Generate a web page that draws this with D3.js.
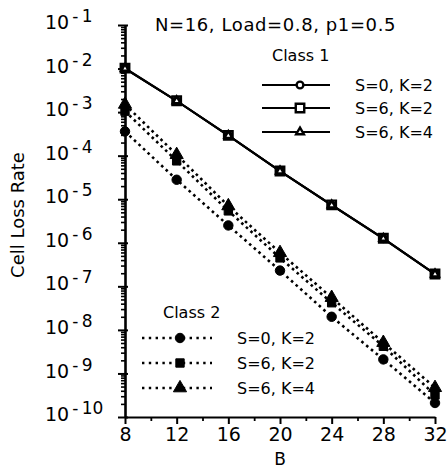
<!DOCTYPE html>
<html>
<head>
<meta charset="utf-8">
<script src="https://cdn.jsdelivr.net/npm/d3@7"></script>
<style>
  body { margin: 0; background: #fff; }
  svg { display: block; }
  text { font-family: "DejaVu Sans", sans-serif; fill: #000; }
</style>
</head>
<body>
<svg id="chart" width="447" height="475"></svg>
<script>
// Buffer size B on the x axis
const bufferSizes = [8, 12, 16, 20, 24, 28, 32];

// Class 1 cell loss rate (solid lines, open markers)
const class1S0K2 = [1.0e-2, 1.8e-3, 2.9e-4, 4.4e-5, 7.3e-6, 1.25e-6, 1.9e-7];
const class1S6K2 = [1.02e-2, 1.82e-3, 2.92e-4, 4.45e-5, 7.4e-6, 1.27e-6, 1.92e-7];
const class1S6K4 = [1.0e-2, 1.8e-3, 2.88e-4, 4.4e-5, 7.3e-6, 1.25e-6, 1.9e-7];

// Class 2 cell loss rate (dotted lines, filled markers)
const class2S0K2 = [3.6e-4, 2.8e-5, 2.5e-6, 2.3e-7, 2.0e-8, 2.1e-9, 2.1e-10];
const class2S6K2 = [1.05e-3, 7.6e-5, 5.4e-6, 4.5e-7, 4.2e-8, 4.2e-9, 3.2e-10];
const class2S6K4 = [1.5e-3, 1.05e-4, 7.0e-6, 5.9e-7, 5.5e-8, 5.1e-9, 4.7e-10];

const seriesLabels = ["S=0, K=2", "S=6, K=2", "S=6, K=4"];
const markerShapes = ["circle", "square", "triangle"];

const xTickValues = [8, 12, 16, 20, 24, 28, 32];
const xMinorTickValues = [10, 14, 18, 22, 26, 30];
const yExponents = [-1, -2, -3, -4, -5, -6, -7, -8, -9, -10];

const titleText = "N=16, Load=0.8, p1=0.5";
const yLabelText = "Cell Loss Rate";
const xLabelText = "B";

const svg = d3.select("#chart");

const x = d3.scaleLinear().domain([8, 32]).range([125, 435]);
const y = d3.scaleLog().domain([1e-10, 1e-1]).range([417, 25]);

// ---- axes ----
const xAxisG = svg.append("g").attr("transform", `translate(0,${y.range()[0]})`);
xAxisG.call(d3.axisBottom(x).tickValues(xTickValues).tickSize(7).tickSizeOuter(0).tickPadding(4).tickFormat(d3.format("d")));
xAxisG.select(".domain").attr("stroke-width", 2.2);
xAxisG.selectAll(".tick line").attr("stroke-width", 2);
xAxisG.selectAll(".tick text").attr("font-size", 19).attr("font-family", "DejaVu Sans");
svg.append("g").attr("transform", `translate(0,${y.range()[0]})`)
  .call(d3.axisBottom(x).tickValues(xMinorTickValues).tickSize(4).tickFormat(""))
  .call(g => g.select(".domain").remove())
  .selectAll(".tick line").attr("stroke-width", 1.8);

const decades = yExponents.map(e => Math.pow(10, e));
const minorY = y.ticks().filter(v => !decades.some(d => Math.abs(v / d - 1) < 1e-6));

svg.append("g").attr("transform", `translate(${x.range()[0]},0)`)
  .call(d3.axisLeft(y).tickValues(minorY).tickSize(4).tickFormat(""))
  .call(g => g.select(".domain").remove())
  .selectAll(".tick line").attr("stroke-width", 1.6);

svg.append("g").attr("transform", `translate(${x.range()[0]},0)`)
  .call(d3.axisRight(y).tickValues(decades).tickSize(3).tickFormat(""))
  .call(g => g.select(".domain").remove())
  .selectAll(".tick line").attr("stroke-width", 2);

const yAxisG = svg.append("g").attr("transform", `translate(${x.range()[0]},0)`);
yAxisG.call(d3.axisLeft(y).tickValues(decades).tickSize(7).tickSizeOuter(0).tickFormat(""));
yAxisG.select(".domain").attr("stroke-width", 2.6);
yAxisG.selectAll(".tick line").attr("stroke-width", 2);

// power-of-ten labels, left-aligned
yAxisG.selectAll(".tick").each(function (d) {
  const exp = Math.round(Math.log10(d));
  const t = d3.select(this).append("text")
    .attr("x", -80).attr("y", 0)
    .attr("text-anchor", "start")
    .attr("font-family", "DejaVu Sans")
    .attr("fill", "#000")
    .attr("dy", "0.36em");
  t.append("tspan").attr("font-size", 19).text("10");
  t.append("tspan").attr("font-size", 17).attr("dx", 3).attr("dy", -7).text("-\u2009" + (-exp));
});

// ---- series ----
const class1 = [class1S0K2, class1S6K2, class1S6K4];
const class2 = [class2S0K2, class2S6K2, class2S6K4];

const line = d3.line().x((d, i) => x(bufferSizes[i])).y(d => y(d));

const symbolType = { circle: d3.symbolCircle, square: d3.symbolSquare, triangle: d3.symbolTriangle };

function drawMarker(g, shape, cx, cy, filled, cls) {
  const sizes = cls === 1
    ? { circle: 36, square: 72, triangle: 26 }
    : { circle: 70, square: 70, triangle: 75 };
  g.append("path")
    .attr("d", d3.symbol().type(symbolType[shape]).size(sizes[shape])())
    .attr("transform", `translate(${cx},${cy})`)
    .attr("fill", filled ? "#000" : "#fff")
    .attr("stroke", "#000")
    .attr("stroke-width", filled ? 1 : 2.4);
}

const plot = svg.append("g");

class2.forEach(vals => {
  plot.append("path").datum(vals).attr("d", line)
    .attr("fill", "none").attr("stroke", "#000")
    .attr("stroke-width", 2.6).attr("stroke-dasharray", "2.6,3.6");
});
class1.forEach(vals => {
  plot.append("path").datum(vals).attr("d", line)
    .attr("fill", "none").attr("stroke", "#000").attr("stroke-width", 2);
});

class2.forEach((vals, s) => {
  vals.forEach((v, i) => drawMarker(plot, markerShapes[s], x(bufferSizes[i]), y(v), true, 2));
});
// squares first so the circle and triangle sit inside them
[1, 0, 2].forEach(s => {
  class1[s].forEach((v, i) => drawMarker(plot, markerShapes[s], x(bufferSizes[i]), y(v), false, 1));
});

// ---- legends ----
function legend(gx, gy, title, rows, cls) {
  const g = svg.append("g");
  g.append("text").attr("x", gx.title).attr("y", gy.title).attr("font-size", 16).text(title);
  rows.forEach((label, i) => {
    const ry = gy.rows[i];
    const ln = g.append("line").attr("x1", gx.x1).attr("x2", gx.x2).attr("y1", ry).attr("y2", ry)
      .attr("stroke", "#000");
    if (cls === 1) ln.attr("stroke-width", 2);
    else ln.attr("stroke-width", 2.4).attr("stroke-dasharray", "2.4,4.4");
    drawMarker(g, markerShapes[i], gx.marker, ry, cls === 2, cls);
    g.append("text").attr("x", gx.text).attr("y", ry).attr("dy", "0.36em")
      .attr("font-size", 16).text(label);
  });
}

legend({ title: 272, x1: 262, x2: 330, marker: 300, text: 355 },
       { title: 61, rows: [85, 108, 132] }, "Class 1", seriesLabels, 1);
legend({ title: 163, x1: 142, x2: 212, marker: 180, text: 237 },
       { title: 318, rows: [338, 363, 388] }, "Class 2", seriesLabels, 2);

// ---- titles ----
svg.append("text").attr("x", 155).attr("y", 31).attr("font-size", 18)
  .attr("letter-spacing", 0.6).text(titleText);

svg.append("text").attr("transform", "translate(24,215) rotate(-90)")
  .attr("text-anchor", "middle").attr("font-size", 18).text(yLabelText);

svg.append("text").attr("x", x(20)).attr("y", 465).attr("text-anchor", "middle")
  .attr("font-size", 17).text(xLabelText);
</script>
</body>
</html>
